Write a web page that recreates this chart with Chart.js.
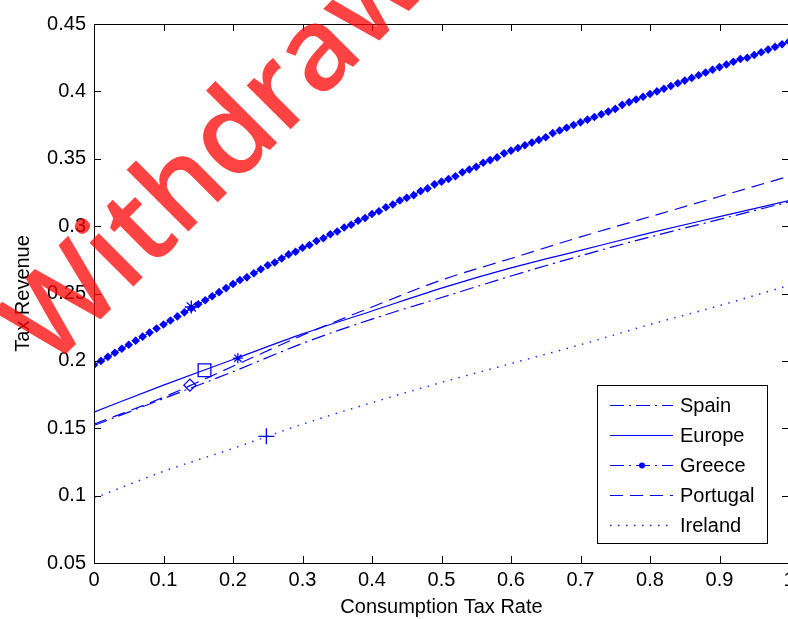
<!DOCTYPE html>
<html>
<head>
<meta charset="utf-8">
<script src="https://cdn.jsdelivr.net/npm/chart.js@4.4.1/dist/chart.umd.min.js"></script>
<style>
  html, body { margin: 0; padding: 0; overflow: hidden; background: #fff; }
  #wrap { width: 788px; height: 619px; overflow: hidden; }
</style>
</head>
<body>
<div id="wrap"><canvas id="taxChart" width="820" height="619"></canvas></div>
<script>
// Tax revenue against consumption tax rate
const countries = ['Spain', 'Europe', 'Greece', 'Portugal', 'Ireland'];
const rates = [0, 0.1, 0.2, 0.3, 0.4, 0.5, 0.6, 0.7, 0.8, 0.9, 1];

const spainRevenue    = [0.152, 0.172, 0.192, 0.213, 0.231, 0.247, 0.263, 0.278, 0.292, 0.305, 0.318];
const europeRevenue   = [0.162, 0.182, 0.201, 0.220, 0.237, 0.254, 0.269, 0.282, 0.295, 0.307, 0.319];
const portugalRevenue = [0.153, 0.173, 0.196, 0.219, 0.240, 0.260, 0.276, 0.292, 0.307, 0.322, 0.337];
const irelandRevenue  = [0.098, 0.118, 0.135, 0.153, 0.169, 0.184, 0.198, 0.212, 0.227, 0.241, 0.256];

// Greece is plotted on a finer grid (one marker per point)
const greeceRates = [
    0, 0.01, 0.02, 0.03, 0.04, 0.05, 0.06, 0.07, 0.08, 0.09,
    0.1, 0.11, 0.12, 0.13, 0.14, 0.15, 0.16, 0.17, 0.18, 0.19,
    0.2, 0.21, 0.22, 0.23, 0.24, 0.25, 0.26, 0.27, 0.28, 0.29,
    0.3, 0.31, 0.32, 0.33, 0.34, 0.35, 0.36, 0.37, 0.38, 0.39,
    0.4, 0.41, 0.42, 0.43, 0.44, 0.45, 0.46, 0.47, 0.48, 0.49,
    0.5, 0.51, 0.52, 0.53, 0.54, 0.55, 0.56, 0.57, 0.58, 0.59,
    0.6, 0.61, 0.62, 0.63, 0.64, 0.65, 0.66, 0.67, 0.68, 0.69,
    0.7, 0.71, 0.72, 0.73, 0.74, 0.75, 0.76, 0.77, 0.78, 0.79,
    0.8, 0.81, 0.82, 0.83, 0.84, 0.85, 0.86, 0.87, 0.88, 0.89,
    0.9, 0.91, 0.92, 0.93, 0.94, 0.95, 0.96, 0.97, 0.98, 0.99, 1
];
const greeceRevenue = [
    0.197, 0.200, 0.203, 0.206, 0.209, 0.212, 0.215, 0.218, 0.221, 0.224,
    0.227, 0.230, 0.233, 0.236, 0.239, 0.242, 0.245, 0.248, 0.251, 0.254,
    0.257, 0.260, 0.262, 0.265, 0.268, 0.271, 0.273, 0.276, 0.279, 0.281,
    0.284, 0.286, 0.289, 0.291, 0.294, 0.296, 0.299, 0.301, 0.304, 0.306,
    0.309, 0.311, 0.314, 0.316, 0.319, 0.321, 0.323, 0.326, 0.328, 0.331,
    0.333, 0.335, 0.337, 0.340, 0.342, 0.344, 0.347, 0.349, 0.351, 0.354,
    0.356, 0.358, 0.360, 0.362, 0.364, 0.366, 0.369, 0.371, 0.373, 0.375,
    0.377, 0.379, 0.381, 0.383, 0.385, 0.387, 0.390, 0.392, 0.394, 0.396,
    0.398, 0.400, 0.402, 0.404, 0.406, 0.408, 0.410, 0.412, 0.414, 0.416,
    0.418, 0.420, 0.422, 0.424, 0.425, 0.427, 0.429, 0.431, 0.433, 0.435, 0.437
];

// current rate / revenue of each economy, marked on its curve
const markerCountries = ['Greece', 'Europe', 'Spain', 'Portugal', 'Ireland'];
const markerRates     = [0.14, 0.159, 0.138, 0.207, 0.248];
const markerRevenue   = [0.240, 0.193, 0.182, 0.202, 0.144];

const xTicks = [0, 0.1, 0.2, 0.3, 0.4, 0.5, 0.6, 0.7, 0.8, 0.9, 1];
const yTicks = [0.05, 0.1, 0.15, 0.2, 0.25, 0.3, 0.35, 0.4, 0.45];

const BLUE = '#0000ff';
const FONT = '"Liberation Sans", Arial, sans-serif';

function toPoints(xs, ys) {
    return ys.map((y, i) => ({ x: xs[i], y: y }));
}

// kotak sumbu gaya MATLAB: bingkai penuh + tick ke dalam
const boxAxes = {
    id: 'boxAxes',
    afterDatasetsDraw(chart) {
        const { ctx, chartArea: a, scales } = chart;
        ctx.save();
        ctx.strokeStyle = '#000';
        ctx.lineWidth = 1;
        ctx.strokeRect(a.left + 0.5, a.top + 0.5, a.right - a.left, a.bottom - a.top);
        ctx.beginPath();
        xTicks.forEach(v => {
            const px = Math.round(scales.x.getPixelForValue(v)) + 0.5;
            ctx.moveTo(px, a.bottom); ctx.lineTo(px, a.bottom - 7);
            ctx.moveTo(px, a.top); ctx.lineTo(px, a.top + 7);
        });
        yTicks.forEach(v => {
            const py = Math.round(scales.y.getPixelForValue(v)) + 0.5;
            ctx.moveTo(a.left, py); ctx.lineTo(a.left + 7, py);
            ctx.moveTo(a.right, py); ctx.lineTo(a.right - 7, py);
        });
        ctx.stroke();
        ctx.restore();
    }
};

// legenda di dalam area plot, pojok kanan bawah
const boxLegend = {
    id: 'boxLegend',
    afterDatasetsDraw(chart) {
        const { ctx, chartArea: a } = chart;
        const w = 170, h = 158;
        const left = a.right - 22 - w;
        const top = a.bottom - 20 - h;
        ctx.save();
        ctx.fillStyle = '#fff';
        ctx.fillRect(left, top, w, h);
        ctx.strokeStyle = '#000';
        ctx.lineWidth = 1;
        ctx.strokeRect(left + 0.5, top + 0.5, w, h);
        ctx.font = '20px ' + FONT;
        ctx.textBaseline = 'middle';
        chart.data.datasets.slice(0, countries.length).forEach((ds, i) => {
            const y = Math.round(top + 20 + 30 * i) + 0.5;
            ctx.strokeStyle = ds.borderColor;
            ctx.lineWidth = ds.borderWidth;
            ctx.setLineDash(ds.borderDash || []);
            ctx.beginPath();
            ctx.moveTo(left + 13, y);
            ctx.lineTo(left + 76, y);
            ctx.stroke();
            ctx.setLineDash([]);
            if (ds.label === 'Greece') {
                ctx.fillStyle = BLUE;
                ctx.beginPath();
                ctx.arc(left + 45, y, 3, 0, Math.PI * 2);
                ctx.fill();
            }
            ctx.fillStyle = '#000';
            ctx.fillText(ds.label, left + 83, y + 1);
        });
        ctx.restore();
    }
};

// cap merah "Withdrawn"
const stamp = {
    id: 'stamp',
    afterDraw(chart) {
        const ctx = chart.ctx;
        ctx.save();
        ctx.translate(50, 370);
        ctx.rotate(-45 * Math.PI / 180);
        ctx.font = '600 115px "Open Sans", sans-serif';
        ctx.fillStyle = 'rgba(255, 0, 0, 0.74)';
        ctx.textBaseline = 'alphabetic';
        ctx.fillText('Withdrawn', 0, 0);
        ctx.restore();
    }
};

const ctxTax = document.getElementById('taxChart').getContext('2d');
const taxChart = new Chart(ctxTax, {
    type: 'scatter',
    data: {
        datasets: [{
            label: 'Spain',
            data: toPoints(rates, spainRevenue),
            showLine: true,
            borderColor: BLUE,
            borderWidth: 1.2,
            borderDash: [14, 5, 2, 5],
            pointRadius: 0,
            cubicInterpolationMode: 'monotone',
        }, {
            label: 'Europe',
            data: toPoints(rates, europeRevenue),
            showLine: true,
            borderColor: BLUE,
            borderWidth: 1.2,
            pointRadius: 0,
            cubicInterpolationMode: 'monotone',
        }, {
            label: 'Greece',
            data: toPoints(greeceRates, greeceRevenue),
            showLine: true,
            borderColor: BLUE,
            borderWidth: 1.2,
            borderDash: [14, 5, 2, 5],
            pointStyle: 'rectRot',
            pointRadius: 4.3,
            pointBorderWidth: 0,
            pointBackgroundColor: BLUE,
            cubicInterpolationMode: 'monotone',
        }, {
            label: 'Portugal',
            data: toPoints(rates, portugalRevenue),
            showLine: true,
            borderColor: BLUE,
            borderWidth: 1.2,
            borderDash: [13, 7],
            pointRadius: 0,
            cubicInterpolationMode: 'monotone',
        }, {
            label: 'Ireland',
            data: toPoints(rates, irelandRevenue),
            showLine: true,
            borderColor: 'rgba(0, 0, 255, 0.85)',
            borderWidth: 1.5,
            borderDash: [1.5, 6.5],
            pointRadius: 0,
            cubicInterpolationMode: 'monotone',
        }, {
            label: 'Current',
            data: toPoints(markerRates, markerRevenue),
            showLine: false,
            pointStyle: ['star', 'rect', 'rectRot', 'star', 'cross'],
            pointRadius: [6.5, 9, 6, 5, 8],
            pointBorderWidth: 1.3,
            pointBorderColor: BLUE,
            pointBackgroundColor: 'rgba(0,0,0,0)',
        }],
    },
    options: {
        responsive: false,
        animation: false,
        layout: { padding: { top: 24, right: 31, left: 0, bottom: 0 } },
        plugins: {
            legend: { display: false },
            tooltip: { enabled: false },
        },
        scales: {
            x: {
                type: 'linear',
                min: 0,
                max: 1,
                afterBuildTicks: s => { s.ticks = xTicks.map(v => ({ value: v })); },
                afterFit: s => { s.height = 56; },
                grid: { display: false, drawTicks: false },
                border: { display: false },
                ticks: {
                    padding: 5,
                    color: '#000',
                    font: { family: FONT, size: 20 },
                    maxRotation: 0,
                    callback: v => String(+v.toFixed(1)),
                },
                title: {
                    display: true,
                    text: 'Consumption Tax Rate',
                    color: '#000',
                    font: { family: FONT, size: 20 },
                    padding: { top: 0, bottom: 0 },
                },
            },
            y: {
                type: 'linear',
                min: 0.05,
                max: 0.45,
                afterBuildTicks: s => { s.ticks = yTicks.map(v => ({ value: v })); },
                afterFit: s => { s.width = 94; },
                grid: { display: false, drawTicks: false },
                border: { display: false },
                ticks: {
                    padding: 8,
                    color: '#000',
                    font: { family: FONT, size: 20 },
                    callback: v => String(+v.toFixed(2)),
                },
                title: {
                    display: true,
                    text: 'Tax Revenue',
                    color: '#000',
                    font: { family: FONT, size: 20 },
                    padding: { top: 11, bottom: 0 },
                },
            },
        },
    },
    plugins: [boxAxes, boxLegend, stamp],
});
</script>
</body>
</html>
